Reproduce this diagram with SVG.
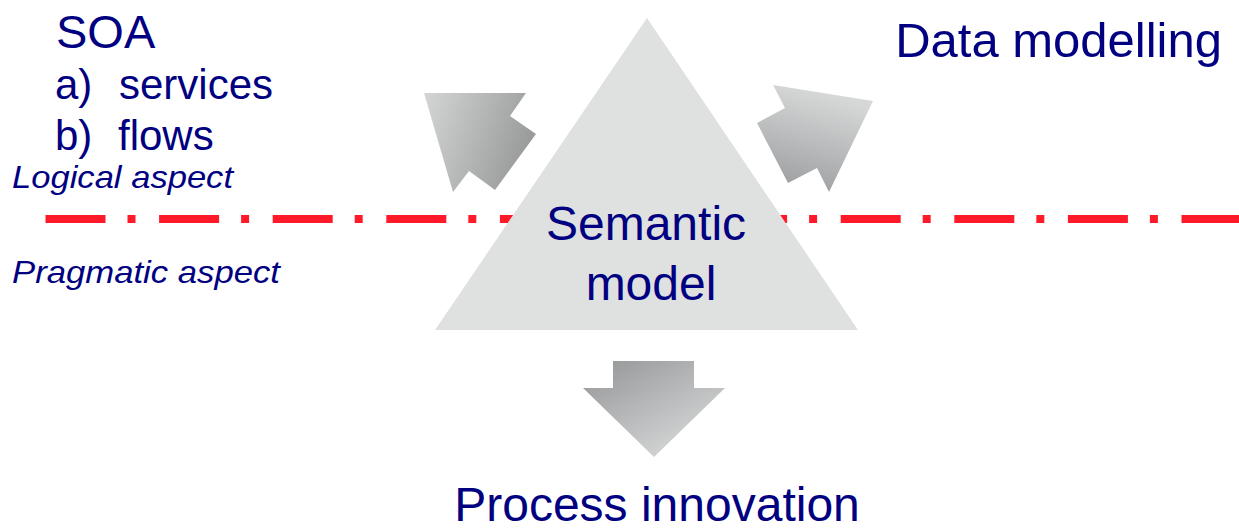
<svg xmlns="http://www.w3.org/2000/svg" width="1239" height="531" viewBox="0 0 1239 531">
<defs>
<style>
.t{font-family:"Liberation Sans",Arial,sans-serif;fill:#000080}
.big{font-size:48px}
.mid{font-size:42px}
.it{font-size:32px;font-style:italic}
</style>
<linearGradient id="gL" x1="0" y1="0" x2="1" y2="0.3">
<stop offset="0" stop-color="#d4d6d6"/><stop offset="1" stop-color="#9a9b9b"/>
</linearGradient>
<linearGradient id="gR" x1="0.3" y1="0" x2="0" y2="1">
<stop offset="0" stop-color="#d6d8d8"/><stop offset="1" stop-color="#97989a"/>
</linearGradient>
<linearGradient id="gD" x1="0" y1="0" x2="0.8" y2="1">
<stop offset="0" stop-color="#939496"/><stop offset="1" stop-color="#dadcdc"/>
</linearGradient>
</defs>
<rect width="1239" height="531" fill="#ffffff"/>
<g id="divider">
<line x1="45.5" y1="219" x2="1239" y2="219" stroke="#ff1a2a" stroke-width="8" stroke-dasharray="60 22 8 23.6"/>
</g>
<g id="semantic-model">
<polygon points="647,18 435,330 858,330" fill="#dfe0e0"/>
<text class="t big" x="646" y="240" text-anchor="middle">Semantic</text>
<text class="t big" x="651" y="300" text-anchor="middle">model</text>
</g>
<g id="connectors">
<polygon points="424,93 526,93 510,116 536,134 495,190 469,171 453,192" fill="url(#gL)"/>
<polygon points="773,85 873,101 829,192 817,168 788,183 757,123 785,108" fill="url(#gR)"/>
<polygon points="613,361 694,361 694,388 725,388 654,457 583,388 613,388" fill="url(#gD)"/>
</g>
<g id="soa">
<text class="t" x="56" y="48" font-size="47">SOA</text>
<text class="t mid" x="55" y="99">a)</text>
<text class="t mid" x="119" y="99">services</text>
<text class="t mid" x="55" y="150">b)</text>
<text class="t mid" x="118" y="150">flows</text>
</g>
<g id="logical-aspect">
<text class="t it" x="12" y="188" textLength="221" lengthAdjust="spacingAndGlyphs">Logical aspect</text>
</g>
<g id="pragmatic-aspect">
<text class="t it" x="12" y="283" textLength="268" lengthAdjust="spacingAndGlyphs">Pragmatic aspect</text>
</g>
<g id="data-modelling">
<text class="t" x="1222" y="57" font-size="49" text-anchor="end">Data modelling</text>
</g>
<g id="process-innovation">
<text class="t big" x="657" y="521" text-anchor="middle">Process innovation</text>
</g>
</svg>
